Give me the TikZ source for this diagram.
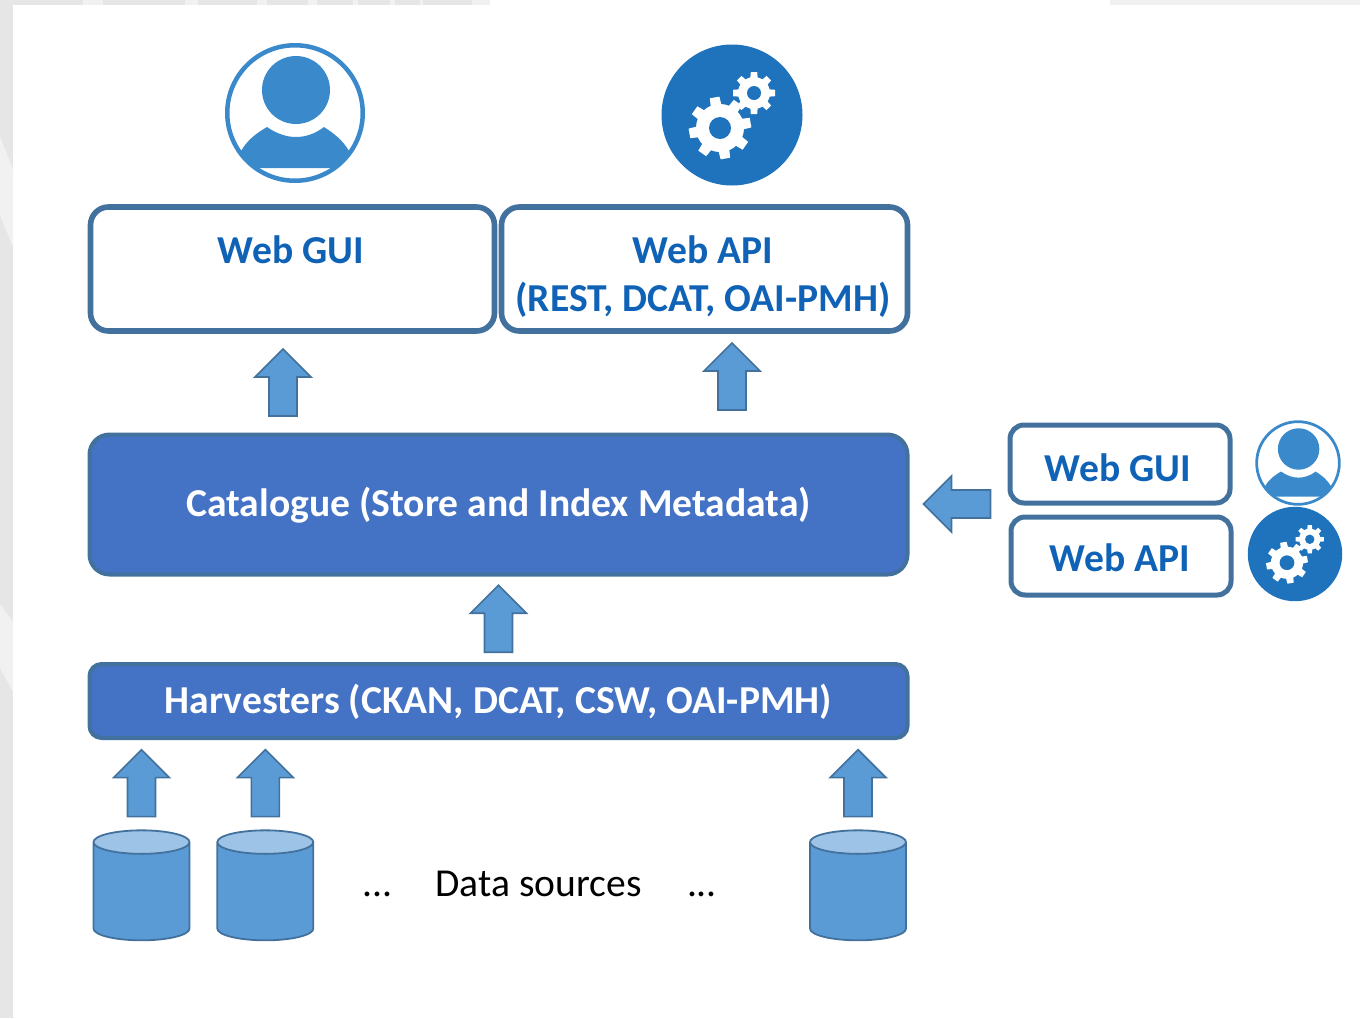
\documentclass[tikz,border=0pt]{standalone}
\usepackage{fontspec}
\setmainfont{Carlito}
\usetikzlibrary{positioning,shapes.arrows,shapes.geometric}
\definecolor{boxline}{HTML}{41719C}
\definecolor{arrowblue}{HTML}{5B9BD5}
\definecolor{lightdisc}{HTML}{9DC3E6}
\definecolor{catblue}{HTML}{4472C4}
\definecolor{titleblue}{HTML}{0F62B5}
\definecolor{userblue}{HTML}{3A8ACB}
\definecolor{gearblue}{HTML}{1F73BC}
\definecolor{pagegrey}{HTML}{E6E6E6}
\definecolor{streakgrey}{HTML}{F1F1F1}

\begin{document}
\begin{tikzpicture}[
	x=.5pt, y=-.5pt,
	frontbox/.style={rectangle, rounded corners=9pt, draw=boxline, line width=2.8pt, fill=white, minimum height=62pt},
	sidebox/.style={rectangle, rounded corners=7pt, draw=boxline, line width=2.5pt, fill=white, minimum height=39pt, minimum width=110pt},
	solidbox/.style={rectangle, draw=boxline, line width=2pt, fill=catblue, minimum width=409pt, text=white, text height=15.8pt, text depth=4.2pt, font=\bfseries\fontsize{19.8}{24}\selectfont},
	title/.style={text=titleblue, align=center, inner sep=0pt, font=\bfseries\fontsize{19.8}{24}\selectfont},
	blockarrow/.style={single arrow, draw=boxline, line width=.8pt, fill=arrowblue, inner sep=6.6pt, minimum height=33.5pt, minimum width=27pt, single arrow head extend=7pt},
	database/.style={cylinder, shape border rotate=90, shape aspect=.42, draw=boxline, line width=.9pt, cylinder uses custom fill, cylinder body fill=arrowblue, cylinder end fill=lightdisc, minimum width=48pt, minimum height=55pt, inner sep=14pt},
	plain/.style={inner sep=0pt, font=\fontsize{19.8}{24}\selectfont},
	usericon/.pic={
		\begin{scope}
			\clip (0,0) circle (67);
			\fill [userblue] (-54,38) .. controls (-47,26) and (-38,20) .. (-28,14) .. controls (-18,21) and (-8,24) .. (1,24) .. controls (10,24) and (20,21) .. (29,14) .. controls (38,20) and (47,26) .. (54,38) -- (70,38) -- (70,55) -- (-70,55) -- (-70,38) -- cycle;
		\end{scope}
		\fill [userblue] (1,-23) circle (34);
		\fill [userblue, even odd rule] (0,0) circle (70) circle (65.5);
	},
	gearicon/.pic={
		\fill [gearblue] (0,0) circle (70.5);
		\foreach \cx/\cy/\body/\tip/\hole/\turn in {-12/13/24/31/11/10, 22/-22/16/21/7/0} {
			\foreach \a in {0,45,...,315} {
				\fill [white, shift={(\cx,\cy)}, rotate=\a+\turn] (-.3*\body,0) -- (-.2*\body,-\tip) -- (.2*\body,-\tip) -- (.3*\body,0) -- cycle;
			}
			\fill [white] (\cx,\cy) circle (\body);
			\fill [gearblue] (\cx,\cy) circle (\hole);
		}
	}
	]

	% page edge
	\useasboundingbox (0,0) rectangle (1360,1018);
	\fill [pagegrey] (0,0) rectangle (13,1018);
	\fill [pagegrey] (0,0) rectangle (490,5);
	\fill [streakgrey] (1110,0) rectangle (1360,5);
	\fill [streakgrey] (0,136) -- (13,170) -- (13,247) -- (0,215) -- cycle;
	\fill [streakgrey] (0,604) -- (13,622) -- (13,692) -- (0,668) -- cycle;
	\foreach \xa/\xb in {83/103, 185/198, 257/267, 308/317, 353/358, 390/395, 420/423, 472/490} {
		\fill [streakgrey] (\xa,0) rectangle (\xb,5);
	}

	\pic (userbig) at (295,113) {usericon};
	\pic (gearbig) at (732,115) {gearicon};

	\node (gui) [frontbox, minimum width=202pt] at (292.5,269) {};
	\node (api) [frontbox, minimum width=203pt] at (704.5,269) {};
	\node (guitext) [title] at (291,250) {Web GUI};
	\node (apitext) [title] at (703,277) {Web API\\(REST, DCAT, OAI-PMH)};

	\node (catalogue) [solidbox, rounded corners=10pt, minimum height=70pt] at (498.5,504.5) {Catalogue (Store and Index Metadata)};
	\node (harvesters) [solidbox, rounded corners=6pt, minimum height=37pt, text height=17pt] at (498.5,701) {Harvesters (CKAN, DCAT, CSW, OAI-PMH)};

	\node (sidegui) [sidebox] at (1120,464) {};
	\node (sideapi) [sidebox] at (1121,556) {};
	\node (sideguitext) [title] at (1118,468) {Web GUI};
	\node (sideapitext) [title] at (1120,558) {Web API};
	\pic (usersmall) [scale=.61] at (1298,463) {usericon};
	\pic (gearsmall) [scale=.67] at (1295,554) {gearicon};

	\node (db1) [database] at (141.5,897) {};
	\node (db2) [database, right=13pt of db1] {};
	\node (db3) [database] at (858,897) {};

	\node (sources) [plain] at (538.5,884) {Data sources};
	\node (dotsleft) [plain] at (377.5,894) {...};
	\node (dotsright) [plain] at (702,894) {...};

	\node (arrow1) [blockarrow, shape border rotate=90, above=6pt of db1] {};
	\node (arrow2) [blockarrow, shape border rotate=90, above=6pt of db2] {};
	\node (arrow3) [blockarrow, shape border rotate=90, above=6pt of db3] {};
	\node (arrowcat) [blockarrow, shape border rotate=90, above=4.5pt of harvesters] {};
	\node (arrowgui) [blockarrow, shape border rotate=90] at (283,389.5) {};
	\node (arrowapi) [blockarrow, shape border rotate=90] at (732,383.5) {};
	\node (arrowside) [blockarrow, shape border rotate=180] at (964,504) {};

\end{tikzpicture}
\end{document}
